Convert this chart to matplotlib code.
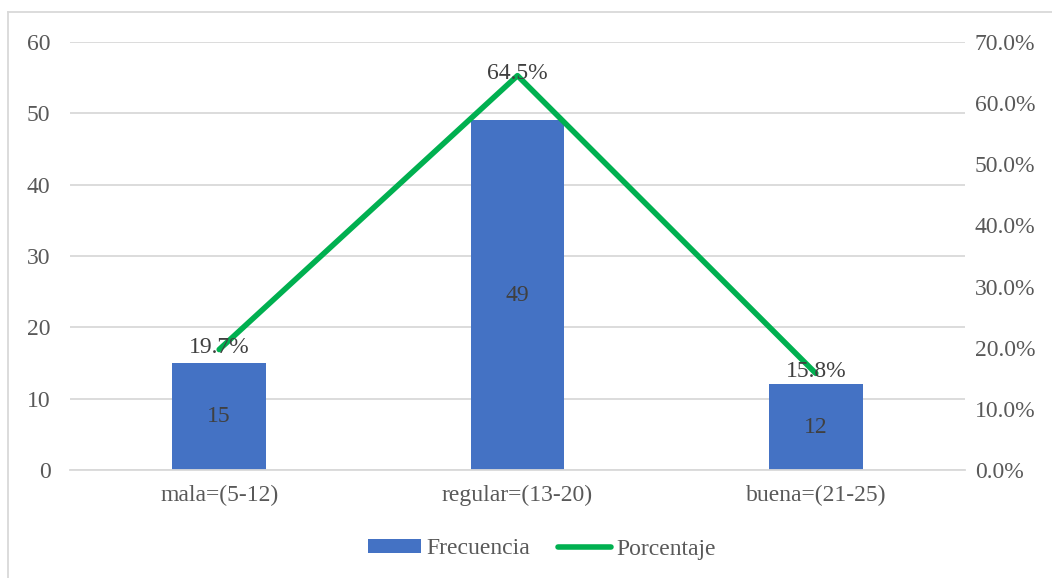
import matplotlib.pyplot as plt
from matplotlib.lines import Line2D
from matplotlib.patches import Patch

plt.rcParams['font.family'] = ['Liberation Serif', 'DejaVu Serif']

categorias = ["mala=(5-12)", "regular=(13-20)", "buena=(21-25)"]
frecuencia = [15, 49, 12]
porcentaje = [19.7, 64.5, 15.8]

azul = "#4472C4"
verde = "#00B050"
gris = "#595959"
fs = 17

fig = plt.figure(figsize=(10.52, 5.78), dpi=100)
ax = fig.add_axes([70/1052, 1-470/578, (965-70)/1052, (470-42)/578])
ax2 = ax.twinx()

x = list(range(len(categorias)))
bars = ax.bar(x, frecuencia, width=0.315, color=azul, zorder=2)
for xi, v in zip(x, frecuencia):
    ax.text(xi, v/2, str(v), ha="center", va="center", fontsize=fs, color="#404040", zorder=3)

ax.set_xlim(-0.5, 2.5)
ax.set_ylim(0, 60)
ax.set_yticks(range(0, 61, 10))
ax.set_xticks(x)
ax.set_xticklabels(categorias)
ax.grid(axis="y", color="#D9D9D9", linewidth=1.3, zorder=0)
ax.set_axisbelow(True)
ax.tick_params(axis="both", length=0, labelsize=fs, colors=gris)
ax.tick_params(axis="x", pad=11)
ax.tick_params(axis="y", pad=14)
for s in ax.spines.values():
    s.set_visible(False)

ax2.plot(x, porcentaje, color=verde, linewidth=4, solid_capstyle="round", zorder=4)
for xi, p in zip(x, porcentaje):
    ax2.text(xi, p + 0.3, f"{p:.1f}%", ha="center", va="center", fontsize=fs, color="#404040", zorder=5)
ax2.set_ylim(0, 70)
ax2.set_yticks(range(0, 71, 10))
ax2.set_yticklabels([f"{t:.1f}%" for t in range(0, 71, 10)])
ax2.tick_params(axis="y", length=0, labelsize=fs, colors=gris, pad=7)
for s in ax2.spines.values():
    s.set_visible(False)
ax2.spines["bottom"].set_visible(True)
ax2.spines["bottom"].set_color("#D9D9D9")
ax2.spines["bottom"].set_linewidth(1.3)

handles = [Patch(facecolor=azul, label="Frecuencia"),
           Line2D([0], [0], color=verde, linewidth=4, solid_capstyle="round", label="Porcentaje")]
fig.legend(handles=handles, loc="center", bbox_to_anchor=(542/1052, 1-549/578), ncol=2,
           frameon=False, fontsize=fs, labelcolor=gris, handlelength=2.25,
           handleheight=0.5, columnspacing=1.2, handletextpad=0.2)

# marco del grafico
fig.add_artist(Line2D([8/1052, 1], [1-12/578, 1-12/578], color="#D9D9D9", linewidth=1.3))
fig.add_artist(Line2D([8/1052, 8/1052], [0, 1-12/578], color="#D9D9D9", linewidth=1.3))

fig.savefig("out.png", dpi=100)
